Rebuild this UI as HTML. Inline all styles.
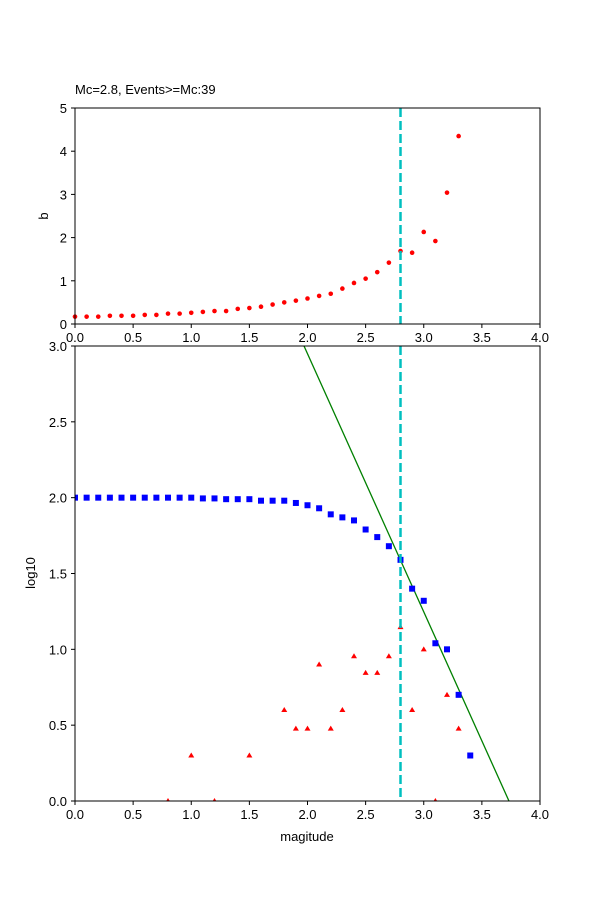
<!DOCTYPE html>
<html><head><style>body{margin:0;background:#fff}svg text{font-family:"Liberation Sans","DejaVu Sans",sans-serif;font-size:13px;fill:#000}</style></head>
<body>
<svg id="s" width="600" height="900" xmlns="http://www.w3.org/2000/svg"></svg>
<script>
const s=document.getElementById('s');let h='';
const X=v=>75+v*116.25;
const Y1=v=>324-v*43.2;
const Y2=v=>801-v*151.67;
// top axes
h+='<text x="75" y="94">Mc=2.8, Events&gt;=Mc:39</text>';
const b=[0.17,0.17,0.17,0.19,0.19,0.19,0.21,0.21,0.24,0.24,0.26,0.28,0.3,0.3,0.35,0.37,0.4,0.45,0.5,0.54,0.59,0.65,0.7,0.82,0.95,1.05,1.2,1.42,1.69,1.65,2.13,1.92,3.04,4.35];
b.forEach((v,i)=>h+=`<circle cx="${X(i/10)}" cy="${Y1(v)}" r="2.3" fill="red"/>`);
h+=`<line x1="${X(2.8)}" y1="108" x2="${X(2.8)}" y2="324" stroke="#00bfbf" stroke-width="2.5" stroke-dasharray="9,4"/>`;
h+='<rect x="75" y="108" width="465" height="216" fill="none" stroke="#000" stroke-width="1"/>';
for(let i=0;i<=5;i++){const y=Y1(i);h+=`<line x1="71" y1="${y}" x2="75" y2="${y}" stroke="#000"/><text x="67" y="${y+5}" text-anchor="end">${i}</text>`;}
for(let i=0;i<=8;i++){const x=X(i/2);h+=`<line x1="${x}" y1="324" x2="${x}" y2="328" stroke="#000"/><text x="${x}" y="342" text-anchor="middle">${(i/2).toFixed(1)}</text>`;}
h+=`<text transform="translate(48,216) rotate(-90)" text-anchor="middle">b</text>`;
// bottom axes
h+=`<defs><clipPath id="c"><rect x="75" y="346" width="465" height="455"/></clipPath></defs>`;
h+=`<line x1="${X(1.97)}" y1="${Y2(3)}" x2="${X(3.733)}" y2="${Y2(0)}" stroke="green" stroke-width="1.3" clip-path="url(#c)"/>`;
const bl=[2,2,2,2,2,2,2,2,2,2,2,1.995,1.995,1.99,1.99,1.99,1.98,1.98,1.98,1.965,1.95,1.93,1.89,1.87,1.85,1.79,1.74,1.68,1.59,1.40,1.32,1.04,1.0,0.70,0.30];
bl.forEach((v,i)=>h+=`<rect x="${X(i/10)-3}" y="${Y2(v)-3}" width="6" height="6" fill="blue" clip-path="url(#c)"/>`);
const tr=[[0.8,0],[1.0,0.30],[1.2,0],[1.5,0.30],[1.8,0.60],[1.9,0.477],[2.0,0.477],[2.1,0.90],[2.2,0.477],[2.3,0.60],[2.4,0.954],[2.5,0.845],[2.6,0.845],[2.7,0.954],[2.8,1.146],[2.9,0.60],[3.0,1.0],[3.1,0],[3.2,0.70],[3.3,0.477]];
tr.forEach(([m,v])=>{const x=X(m),y=Y2(v);h+=`<polygon points="${x},${y-3} ${x-3},${y+2} ${x+3},${y+2}" fill="red" clip-path="url(#c)"/>`;});
h+=`<line x1="${X(2.8)}" y1="346" x2="${X(2.8)}" y2="801" stroke="#00bfbf" stroke-width="2.5" stroke-dasharray="9,4"/>`;
h+='<rect x="75" y="346" width="465" height="455" fill="none" stroke="#000" stroke-width="1"/>';
for(let i=0;i<=6;i++){const y=Y2(i/2);h+=`<line x1="71" y1="${y}" x2="75" y2="${y}" stroke="#000"/><text x="67" y="${y+5}" text-anchor="end">${(i/2).toFixed(1)}</text>`;}
for(let i=0;i<=8;i++){const x=X(i/2);h+=`<line x1="${x}" y1="801" x2="${x}" y2="805" stroke="#000"/><text x="${x}" y="819" text-anchor="middle">${(i/2).toFixed(1)}</text>`;}
h+=`<text transform="translate(35,573) rotate(-90)" text-anchor="middle">log10</text>`;
h+=`<text x="307" y="841" text-anchor="middle">magitude</text>`;
s.innerHTML=h;
</script>
</body></html>
